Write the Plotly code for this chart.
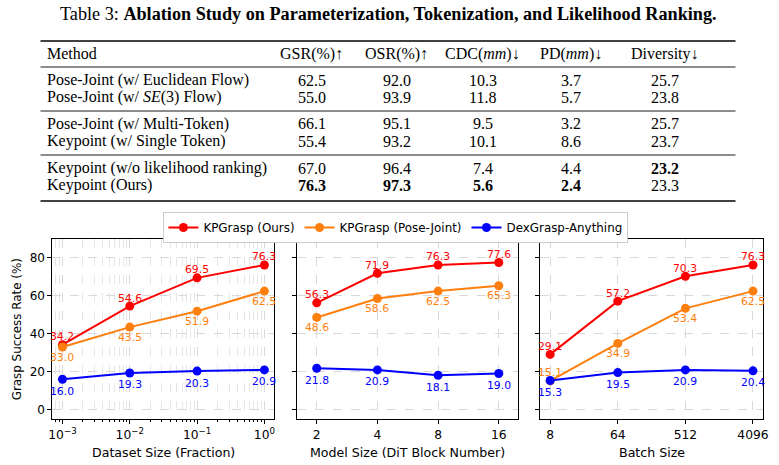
import numpy as np
import plotly.graph_objects as go

W, H = 779, 465

# ---------------- data ----------------
table_title_plain = "Table 3: "
table_title_bold = "Ablation Study on Parameterization, Tokenization, and Likelihood Ranking."
col_headers = ["Method", "GSR(%)↑", "OSR(%)↑", "CDC(<i>mm</i>)↓", "PD(<i>mm</i>)↓", "Diversity↓"]
methods = ["Pose-Joint (w/ Euclidean Flow)", "Pose-Joint (w/ <i>SE</i>(3) Flow)",
           "Pose-Joint (w/ Multi-Token)", "Keypoint (w/ Single Token)",
           "Keypoint (w/o likelihood ranking)", "Keypoint (Ours)"]
gsr = ["62.5", "55.0", "66.1", "55.4", "67.0", "76.3"]
osr = ["92.0", "93.9", "95.1", "93.2", "96.4", "97.3"]
cdc = ["10.3", "11.8", "9.5", "10.1", "7.4", "5.6"]
pd_ = ["3.7", "5.7", "3.2", "8.6", "4.4", "2.4"]
diversity = ["25.7", "23.8", "25.7", "23.7", "23.2", "23.3"]
best = {"GSR": "76.3", "OSR": "97.3", "CDC": "5.6", "PD": "2.4", "Diversity": "23.2"}

series_names = ["KPGrasp (Ours)", "KPGrasp (Pose-Joint)", "DexGrasp-Anything"]

dataset_frac = [0.001, 0.01, 0.1, 1.0]
ours_ds = [34.2, 54.6, 69.5, 76.3]
pose_ds = [33.0, 43.5, 51.9, 62.5]
dex_ds = [16.0, 19.3, 20.3, 20.9]

model_blocks = [2, 4, 8, 16]
ours_ms = [56.3, 71.9, 76.3, 77.6]
pose_ms = [48.6, 58.6, 62.5, 65.3]
dex_ms = [21.8, 20.9, 18.1, 19.0]

batch_sizes = [8, 64, 512, 4096]
ours_bs = [29.1, 57.2, 70.3, 76.3]
pose_bs = [15.1, 34.9, 53.4, 62.5]
dex_bs = [15.3, 19.5, 20.9, 20.4]

ds_ticktext = ["10<sup>−3</sup>", "10<sup>−2</sup>", "10<sup>−1</sup>", "10<sup>0</sup>"]
ms_ticktext = ["2", "4", "8", "16"]
bs_ticktext = ["8", "64", "512", "4096"]
y_ticks = [0, 20, 40, 60, 80]

x_titles = ["Dataset Size (Fraction)", "Model Size (DiT Block Number)", "Batch Size"]
y_title = "Grasp Success Rate (%)"

# ---------------- styles ----------------
colors = ["#ff0000", "#ff7f0e", "#0000ff"]
SANS = "DejaVu Sans"
SERIF = "Liberation Serif"


def px(xp):
    return xp / W


def py(yp):
    return 1 - yp / H


fig = go.Figure()
annotations = []
shapes = []

# ---------------- table ----------------
annotations.append(dict(
    x=px(390), y=py(14), xref="paper", yref="paper", showarrow=False,
    text=table_title_plain + "<b>" + table_title_bold + "</b>",
    font=dict(family=SERIF, size=18.2, color="black"), xanchor="center", yanchor="middle"))

col_x = [42, 312, 398, 485, 574, 670]
header_y = 54
row_y = [80, 97, 124, 141, 168, 185]
rules = [(41, 1.4), (67, 0.9), (111, 0.9), (155, 0.9), (201, 1.4)]
for yy, lw in rules:
    shapes.append(dict(type="line", xref="paper", yref="paper",
                       x0=px(37), x1=px(741), y0=py(yy), y1=py(yy),
                       line=dict(color="black", width=lw)))

tfont = dict(family=SERIF, size=16, color="black")
for j, h in enumerate(col_headers):
    annotations.append(dict(x=px(col_x[j]), y=py(header_y), xref="paper", yref="paper",
                            showarrow=False, text=h, font=tfont,
                            xanchor="left" if j == 0 else "center", yanchor="middle"))

cols = [("GSR", gsr), ("OSR", osr), ("CDC", cdc), ("PD", pd_), ("Diversity", diversity)]
for i, m in enumerate(methods):
    annotations.append(dict(x=px(col_x[0]), y=py(row_y[i]), xref="paper", yref="paper",
                            showarrow=False, text=m, font=tfont, xanchor="left", yanchor="middle"))
    for j, (key, vals) in enumerate(cols):
        v = vals[i]
        txt = "<b>" + v + "</b>" if v == best[key] else v
        annotations.append(dict(x=px(col_x[j + 1]), y=py(row_y[i]), xref="paper", yref="paper",
                                showarrow=False, text=txt, font=tfont,
                                xanchor="center", yanchor="middle"))

# ---------------- charts ----------------
panels = [
    (dataset_frac, [ours_ds, pose_ds, dex_ds], ds_ticktext, (49, 274),
     [np.log10(dataset_frac[0]) - 0.15, np.log10(dataset_frac[-1]) + 0.15]),
    (model_blocks, [ours_ms, pose_ms, dex_ms], ms_ticktext, (297, 521),
     [np.log10(1.6), np.log10(20)]),
    (batch_sizes, [ours_bs, pose_bs, dex_bs], bs_ticktext, (543, 769),
     [np.log10(8) - 0.45 * np.log10(2), np.log10(4096) + 0.45 * np.log10(2)]),
]
plot_top, plot_bot = 239, 419
ydom = [py(plot_bot), py(plot_top)]

minor_ds = [m * 10.0 ** e for e in (-4, -3, -2, -1, 0) for m in range(2, 10)]

for k, (xv, ys, ttext, (xl, xr), xrange_) in enumerate(panels):
    sfx = "" if k == 0 else str(k + 1)
    for s, yv in enumerate(ys):
        fig.add_trace(go.Scatter(
            x=xv, y=yv, mode="lines+markers", name=series_names[s],
            showlegend=(k == 0), legendgroup=series_names[s],
            line=dict(color=colors[s], width=2),
            marker=dict(color=colors[s], size=9, symbol="circle"),
            xaxis="x" + sfx, yaxis="y" + sfx, cliponaxis=False))
    # value labels
    for s, yv in enumerate(ys):
        for i, (xx, yy) in enumerate(zip(xv, yv)):
            if s == 0:
                shift = 8
            elif s == 1:
                shift = 8 if abs(yy - ys[2][i]) < 3 else -10
            else:
                shift = -12
            annotations.append(dict(
                x=np.log10(xx), y=yy, xref="x" + sfx, yref="y" + sfx, showarrow=False,
                text=f"{yy:.1f}", yshift=shift, xanchor="center", yanchor="middle",
                font=dict(family=SANS, size=10.8, color=colors[s])))
    xa = dict(
        domain=[px(xl), px(xr)], type="log", range=xrange_, anchor="y" + sfx,
        tickmode="array", tickvals=xv, ticktext=ttext,
        showline=True, linecolor="black", linewidth=1, mirror=True,
        ticks="outside", ticklen=4, tickcolor="black", tickwidth=1,
        showgrid=True, gridcolor="#d9d9d9", griddash="dash", gridwidth=0.8,
        zeroline=False, tickfont=dict(family=SANS, size=12.3, color="black"),
    )
    if k == 0:
        xa["minor"] = dict(tickmode="array", tickvals=minor_ds, ticks="outside", ticklen=2,
                           tickcolor="black", showgrid=True, gridcolor="#e6e6e6",
                           griddash="dash", gridwidth=0.6)
    ya = dict(
        domain=ydom, range=[-5, 90], anchor="x" + sfx,
        tickmode="array", tickvals=y_ticks,
        showticklabels=(k == 0),
        showline=True, linecolor="black", linewidth=1, mirror=True,
        ticks="outside", ticklen=4, tickcolor="black", tickwidth=1,
        showgrid=True, gridcolor="#d9d9d9", griddash="dash", gridwidth=0.8,
        zeroline=False, tickfont=dict(family=SANS, size=12, color="black"),
    )
    fig.update_layout(**{"xaxis" + sfx: xa, "yaxis" + sfx: ya})
    annotations.append(dict(x=px((xl + xr) / 2), y=py(452), xref="paper", yref="paper",
                            showarrow=False, text=x_titles[k], xanchor="center", yanchor="middle",
                            font=dict(family=SANS, size=12.6, color="black")))

annotations.append(dict(x=px(13.5), y=py((plot_top + plot_bot) / 2), xref="paper", yref="paper",
                        showarrow=False, text=y_title, textangle=-90,
                        xanchor="center", yanchor="middle",
                        font=dict(family=SANS, size=11.9, color="black")))

fig.update_layout(
    width=W, height=H, margin=dict(l=0, r=0, t=0, b=0),
    paper_bgcolor="white", plot_bgcolor="white",
    annotations=annotations, shapes=shapes,
    legend=dict(orientation="h", x=px(397), y=py(212), xanchor="center", yanchor="top",
                bordercolor="#cccccc", borderwidth=1, bgcolor="white",
                font=dict(family=SANS, size=11.9, color="black"),
                itemwidth=30, tracegroupgap=0),
    showlegend=True,
)

fig.write_html("out.html")
